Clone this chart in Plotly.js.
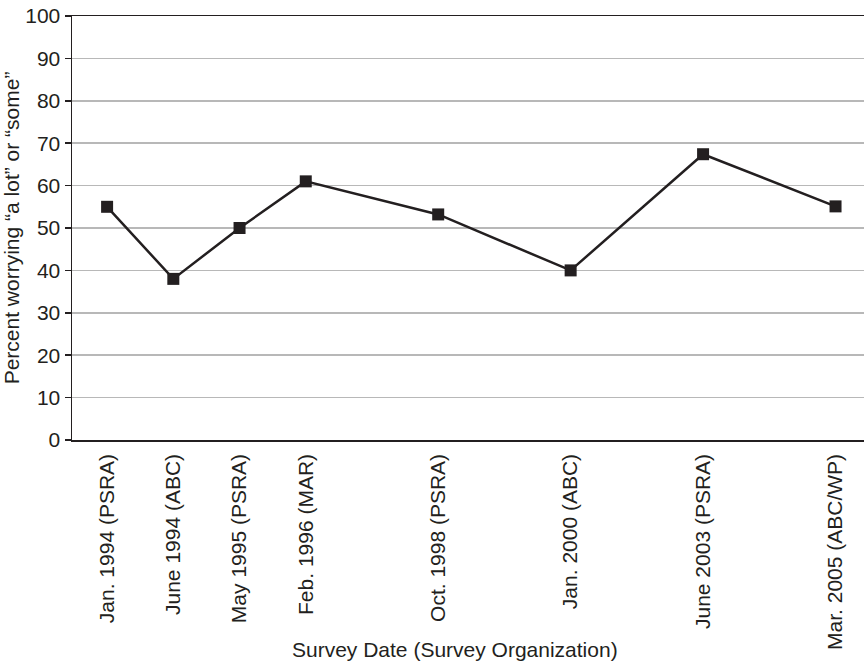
<!DOCTYPE html>
<html>
<head>
<meta charset="utf-8">
<script src="https://cdn.plot.ly/plotly-3.0.1.min.js"></script>
<style>html,body{margin:0;padding:0;overflow:hidden;background:#fff;}#chart{width:864px;height:665px;}</style>
</head>
<body>
<div id="chart"></div>
<script>
const surveyLabels = ['Jan. 1994 (PSRA)', 'June 1994 (ABC)', 'May 1995 (PSRA)', 'Feb. 1996 (MAR)', 'Oct. 1998 (PSRA)', 'Jan. 2000 (ABC)', 'June 2003 (PSRA)', 'Mar. 2005 (ABC/WP)'];
const slotIndex = [0, 1, 2, 3, 5, 7, 9, 11];
const percentWorrying = [55, 38, 50, 61, 53.2, 40, 67.4, 55.1];
const yTicks = [0, 10, 20, 30, 40, 50, 60, 70, 80, 90, 100];

const ink = '#231f20';
const font = 'Liberation Sans, Arial, Helvetica, sans-serif';

Plotly.newPlot('chart', [{
  x: slotIndex,
  y: percentWorrying,
  type: 'scatter',
  mode: 'lines+markers',
  line: {color: ink, width: 2.5},
  marker: {symbol: 'square', size: 12, color: ink},
  hoverinfo: 'skip'
}], {
  width: 864, height: 665,
  margin: {l: 72, r: 0, t: 16, b: 225},
  paper_bgcolor: '#fff', plot_bgcolor: '#fff',
  showlegend: false,
  font: {family: font, color: ink, size: 21},
  xaxis: {
    range: [-0.53, 11.43],
    tickmode: 'array', tickvals: slotIndex, ticktext: surveyLabels,
    tickangle: -90, ticks: '', ticklabelstandoff: 4,
    showgrid: false, zeroline: false,
    showline: true, linecolor: ink, linewidth: 1.5, mirror: true,
    tickfont: {size: 21, family: font, color: ink}
  },
  yaxis: {
    range: [0, 100], tickmode: 'array', tickvals: yTicks,
    ticks: 'outside', ticklen: 6, tickcolor: ink, tickwidth: 1.5,
    showgrid: true, gridcolor: '#b8b8b8', gridwidth: 1.5,
    zeroline: false, showline: true, linecolor: ink, linewidth: 1.5,
    tickfont: {size: 21, family: font, color: ink},
    title: {text: 'Percent worrying \u201ca lot\u201d or \u201csome\u201d', font: {size: 21, family: font, color: ink}, standoff: 1}
  },
  annotations: [{
    text: 'Survey Date (Survey Organization)',
    xref: 'paper', yref: 'paper', x: 0.4836, y: -0.495,
    xanchor: 'center', yanchor: 'middle', showarrow: false,
    font: {size: 21, family: font, color: ink}
  }]
}, {staticPlot: true, displayModeBar: false});
</script>
</body>
</html>
